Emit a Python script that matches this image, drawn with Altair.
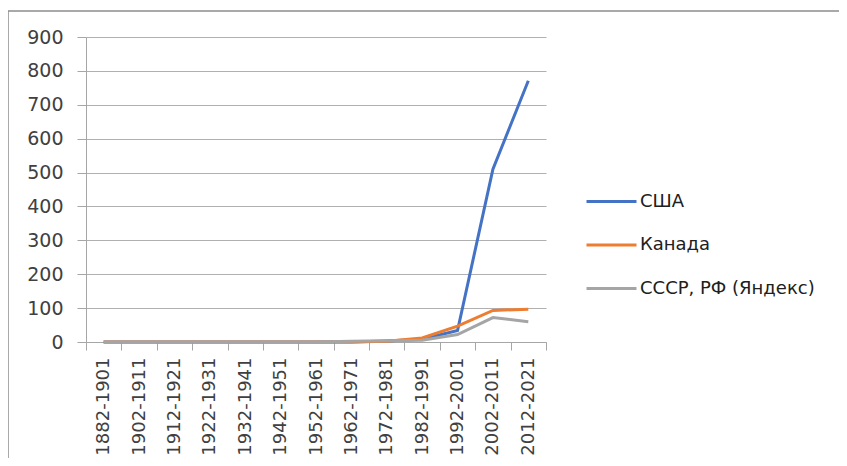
import altair as alt
import pandas as pd

categories = ["1882-1901", "1902-1911", "1912-1921", "1922-1931", "1932-1941",
              "1942-1951", "1952-1961", "1962-1971", "1972-1981", "1982-1991",
              "1992-2001", "2002-2011", "2012-2021"]
usa = [0, 0, 0, 0, 0, 0, 0, 0, 3, 8, 34, 510, 771]
canada = [0, 0, 0, 0, 0, 0, 0, 0, 2, 12, 47, 93, 97]
ussr_rf = [0, 0, 0, 0, 0, 0, 0, 2, 4, 5, 22, 72, 60]
series_names = ["США", "Канада", "СССР, РФ (Яндекс)"]
series_colors = ["#4472C4", "#ED7D31", "#A5A5A5"]

rows = []
for name, vals in zip(series_names, [usa, canada, ussr_rf]):
    for c, v in zip(categories, vals):
        rows.append({"period": c, "value": v, "series": name})
df = pd.DataFrame(rows)

FONT = "DejaVu Sans"
TXT = "#404040"

lines = alt.Chart(df).mark_line(strokeWidth=3).encode(
    x=alt.X("period:N", sort=categories, bandPosition=0.5,
            scale=alt.Scale(type="band", paddingInner=0, paddingOuter=0),
            axis=alt.Axis(title=None, labelAngle=270, labelAlign="right", labelBaseline="middle",
                          tickBand="extent", tickSize=8, tickColor="#a6a6a6",
                          domainColor="#a6a6a6", labelPadding=7, labelFontSize=18,
                          labelFont=FONT, labelColor=TXT, grid=False)),
    y=alt.Y("value:Q", scale=alt.Scale(domain=[0, 900], nice=False),
            axis=alt.Axis(title=None, values=list(range(0, 901, 100)), tickSize=9,
                          tickColor="#a6a6a6", domainColor="#a6a6a6", gridColor="#b0b0b0",
                          labelPadding=14, labelFontSize=19, labelFont=FONT, labelColor=TXT)),
    color=alt.Color("series:N", sort=series_names,
                    scale=alt.Scale(domain=series_names, range=series_colors),
                    legend=alt.Legend(title=None, orient="none", legendX=499, legendY=138,
                                      symbolType="stroke", symbolSize=2500, symbolStrokeWidth=3,
                                      labelFontSize=18, labelFont=FONT, labelColor="#202020",
                                      labelOffset=2, labelLimit=400, padding=0, rowPadding=7.5)),
)

frame_top = alt.Chart(pd.DataFrame({"k": [0]})).mark_rule(color="#8c8c8c", strokeWidth=1.5).encode(
    x=alt.value(-78), x2=alt.value(761), y=alt.value(-26))
frame_left = alt.Chart(pd.DataFrame({"k": [0]})).mark_rule(color="#8c8c8c", strokeWidth=1.5).encode(
    x=alt.value(-78), y=alt.value(-26), y2=alt.value(430))

chart = alt.layer(frame_top, frame_left, lines).properties(
    width=460, height=305,
    autosize=alt.AutoSizeParams(type="none"),
    padding={"left": 78, "top": 29, "right": 293, "bottom": 116},
).configure_view(stroke=None)

chart.save("out.html", embed_options={"renderer": "svg", "actions": False})
